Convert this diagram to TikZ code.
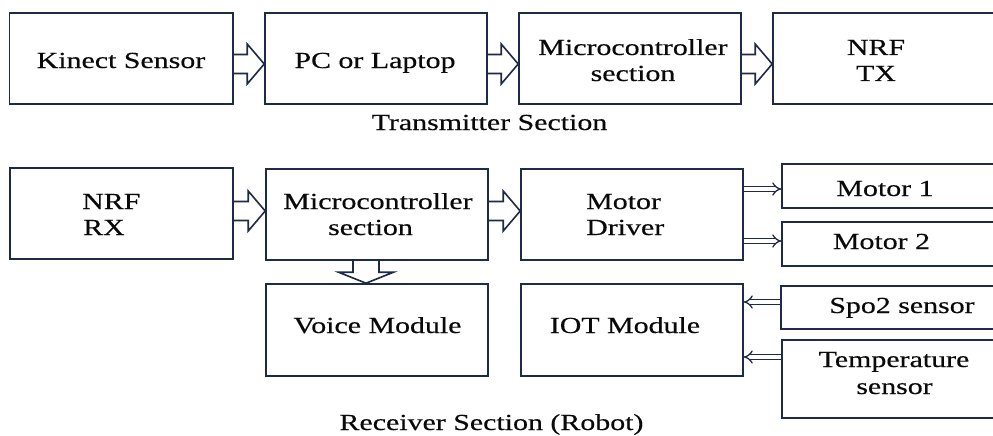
\documentclass[tikz,border=0pt]{standalone}
\usepackage{fontspec}
\setmainfont[FakeStretch=1.3,FakeBold=0.4]{Liberation Serif}
\usetikzlibrary{calc,arrows.meta}
\definecolor{edge}{RGB}{30,42,72}
\definecolor{ink}{RGB}{10,10,10}

% hollow block arrow pointing right, from box #1 to box #2, offset #3 from #2's centre line
\newcommand\blockright[3]{%
  \path ($(#2.west)+(0,#3)$) coordinate (tip)
        ($(tip)+(-17,-9.5)$) coordinate (su)
        ($(tip)+(-17,9.5)$) coordinate (sd);
  \draw[blk] (#1.east |- su) -- (su) -- ($(tip)+(-17,-20)$) -- (tip)
             -- ($(tip)+(-17,20)$) -- (sd) -- (#1.east |- sd);}

\begin{document}
\begin{tikzpicture}[x=1pt,y=-1pt,
  box/.style={draw=edge,line width=1.6pt,rectangle,inner sep=0pt},
  blk/.style={draw=edge,line width=1.6pt,line join=miter},
  dbl/.style={draw=edge,line width=1.3pt,double=white,double distance=3.2pt,
              -{Implies[length=6pt,width=13pt]}},
  lbl/.style={text=ink,inner sep=0pt,anchor=base,font=\fontsize{23}{26}\selectfont},
  lbll/.style={lbl,anchor=base west}]
\clip (0,0) rectangle (993,436);
\fill[white] (0,0) rectangle (993,436);

% transmitter chain
\node[box,minimum width=223.5pt,minimum height=91pt] (kinect) at (121.25,58.5) {};
\node[box,minimum width=222pt,minimum height=91pt] (pc) at (376,58.5) {};
\node[box,minimum width=222pt,minimum height=91pt] (mct) at (630,58.5) {};
\node[box,minimum width=237pt,minimum height=91pt] (nrftx) at (891.5,58.5) {};

\node[lbl] (kinect-t) at (121,68) {Kinect Sensor};
\node[lbl] (pc-t) at (375,68) {PC or Laptop};
\node[lbl] (mct-t1) at (633,55) {Microcontroller};
\node[lbl] (mct-t2) at (633,81) {section};
\node[lbl] (nrftx-t1) at (876,55) {NRF};
\node[lbl] (nrftx-t2) at (876,81) {TX};
\node[lbl] (tx-title) at (489.5,130) {Transmitter Section};

\blockright{kinect}{pc}{5.5}
\blockright{pc}{mct}{5.5}
\blockright{mct}{nrftx}{5.5}

% receiver chain
\node[box,minimum width=223pt,minimum height=91pt] (nrfrx) at (121.5,213.5) {};
\node[box,minimum width=222pt,minimum height=91pt] (mcr) at (377,214.5) {};
\node[box,minimum width=222pt,minimum height=91pt] (md) at (632,214.5) {};
\node[box,minimum width=222pt,minimum height=92pt] (voice) at (377,330) {};
\node[box,minimum width=222pt,minimum height=92pt] (iot) at (632,330) {};
\node[box,minimum width=228pt,minimum height=44pt] (m1) at (896,186) {};
\node[box,minimum width=228pt,minimum height=44pt] (m2) at (896,244) {};
\node[box,minimum width=229pt,minimum height=43pt] (spo2) at (895.5,307.5) {};
\node[box,minimum width=228pt,minimum height=78pt] (temp) at (896,379) {};

\node[lbll] (nrfrx-t1) at (82,209) {NRF};
\node[lbll] (nrfrx-t2) at (83,235) {RX};
\node[lbl] (mcr-t1) at (378,209) {Microcontroller};
\node[lbl] (mcr-t2) at (370.5,235) {section};
\node[lbll] (md-t1) at (586,209) {Motor};
\node[lbll] (md-t2) at (586,235) {Driver};
\node[lbl] (voice-t) at (377.5,333) {Voice Module};
\node[lbl] (iot-t) at (625,333) {IOT Module};
\node[lbl] (m1-t) at (885,196) {Motor 1};
\node[lbl] (m2-t) at (881.5,249) {Motor 2};
\node[lbl] (spo2-t) at (902,313) {Spo2 sensor};
\node[lbl] (temp-t1) at (894,367) {Temperature};
\node[lbl] (temp-t2) at (894.5,394) {sensor};
\node[lbl] (rx-title) at (491.5,430) {Receiver Section (Robot)};

\blockright{nrfrx}{mcr}{-3.5}
\blockright{mcr}{md}{-3.5}

% block arrow down into the voice module
\path ($(voice.north)+(-11,0)$) coordinate (vtip)
      ($(vtip)+(-13,-11)$) coordinate (vl)
      ($(vtip)+(13,-11)$) coordinate (vr);
\draw[blk] (vl |- mcr.south) -- (vl) -- ($(vtip)+(-27.5,-11)$) -- (vtip)
           -- ($(vtip)+(27.5,-11)$) -- (vr) -- (vr |- mcr.south);

% thin double arrows
\coordinate (a1) at ($(m1.west)+(0,3)$);
\coordinate (a2) at ($(m2.west)+(0,-3)$);
\coordinate (a3) at ($(spo2.west)+(0,-5.5)$);
\coordinate (a4) at ($(temp.west)+(0,-22)$);
\draw[dbl] (md.east |- a1) -- (a1);
\draw[dbl] (md.east |- a2) -- (a2);
\draw[dbl] (a3) -- (iot.east |- a3);
\draw[dbl] (a4) -- (iot.east |- a4);
\end{tikzpicture}
\end{document}
